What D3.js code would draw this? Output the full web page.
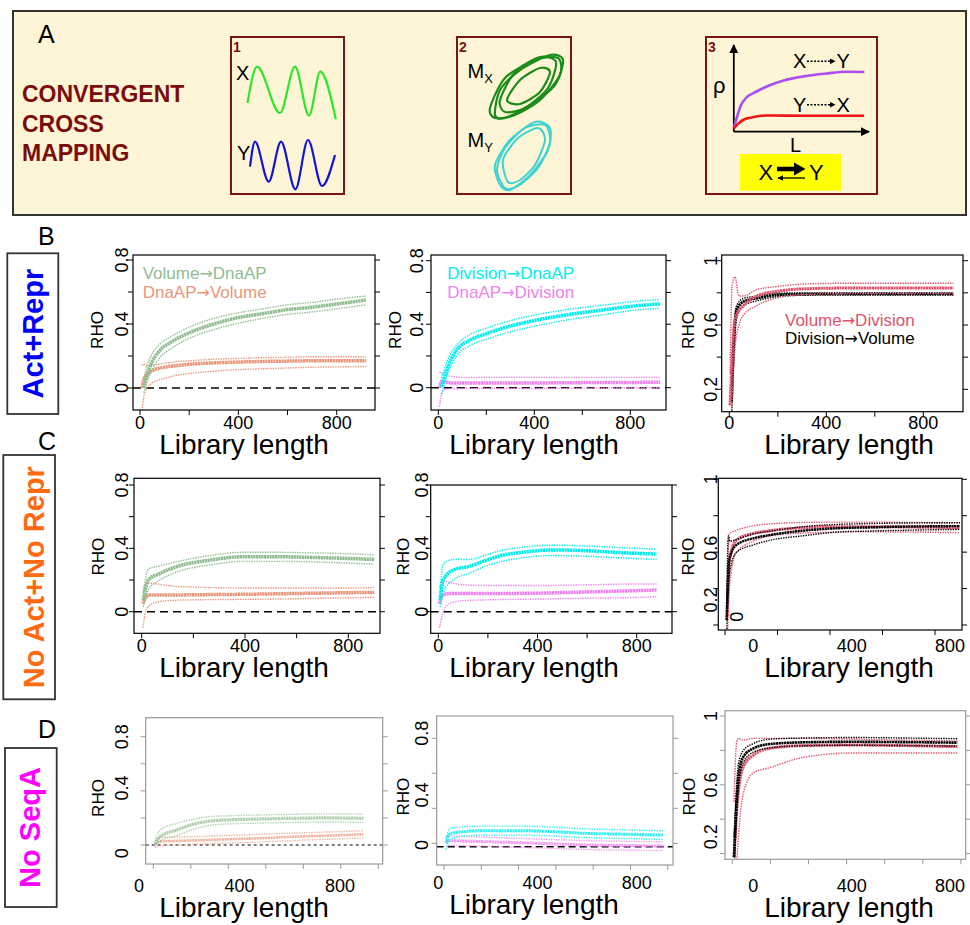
<!DOCTYPE html>
<html><head><meta charset="utf-8">
<script src="https://cdn.jsdelivr.net/npm/d3@7"></script>
<style>body{margin:0;background:#fff}svg{display:block}text{font-family:"Liberation Sans",Arial,Helvetica,sans-serif}</style>
</head><body><svg id="c" width="970" height="925"></svg>
<script>
// ================= DATA =================
const ccmWords = ["CONVERGENT","CROSS","MAPPING"];
const waveX = [[16.5,66],[26,29.7],[49,76],[64,29.7],[78,78.7],[89.3,34.7],[104.8,82.3]];
const waveY = [[19,129.7],[24,104.7],[37.7,144.7],[50,104.7],[64.4,152.3],[77,103],[91,149],[104,118]];
const loopsMX = [
  [[38,78],[43,53],[63,33],[93,18],[106,23],[98,48],[73,68],[48,81]],
  [[33,71],[48,41],[78,23],[101,21],[103,38],[83,63],[58,78],[38,81]],
  [[43,63],[58,35],[83,20],[99,25],[91,51],[68,71],[48,75]],
  [[50,63],[63,43],[83,31],[93,35],[83,55],[63,67]]];
const loopsMY = [
  [[43,148],[38,128],[53,103],[78,85],[93,91],[91,113],[73,138],[53,153]],
  [[48,151],[40,133],[48,111],[68,91],[88,88],[93,105],[81,131],[61,149]],
  [[51,145],[46,123],[61,101],[81,91],[88,103],[78,128],[63,143]]];
const rhoXY = [[27.8,91.3],[31,80],[35,68],[40,61],[49.6,55],[62,49],[77.6,43.5],[100,39],[121,36.5],[140,34.8],[158.4,35]];
const rhoYX = [[27.8,91.3],[33,86],[38,82.5],[46.5,80.3],[60,78.5],[80,78.6],[120,78.8],[158,78.7]];

// Row B (Act+Repr)
const bL_vd = [15,27,45,81,130,200,300,400,500,600,700,800,920];
const b_vd   = [0.0,0.07,0.15,0.235,0.29,0.345,0.40,0.44,0.465,0.49,0.505,0.525,0.55];
const b_vdHi = [0.05,0.13,0.2,0.275,0.325,0.38,0.435,0.47,0.495,0.52,0.535,0.555,0.575];
const b_vdLo = [-0.03,0.03,0.1,0.19,0.25,0.31,0.365,0.405,0.435,0.46,0.475,0.495,0.52];
const bL_dv = [8,15,25,40,60,100,150,200,300,400,500,600,700,800,920];
const b_dv   = [0.0,0.05,0.08,0.10,0.115,0.13,0.14,0.148,0.157,0.162,0.166,0.168,0.17,0.17,0.17];
const b_dvHi = [0.14,0.15,0.14,0.14,0.145,0.155,0.165,0.17,0.18,0.185,0.19,0.192,0.195,0.195,0.195];
const b_dvLo = [-0.14,-0.06,-0.01,0.02,0.04,0.06,0.08,0.09,0.105,0.115,0.12,0.125,0.13,0.132,0.135];
const bL_divd = [14,35,77,132,200,271,410,549,688,826,924];
const b_divd   = [0.006,0.11,0.237,0.30,0.34,0.376,0.426,0.462,0.49,0.516,0.528];
const b_divdHi = [0.06,0.16,0.27,0.335,0.375,0.41,0.46,0.495,0.52,0.545,0.555];
const b_divdLo = [-0.04,0.07,0.2,0.265,0.305,0.34,0.39,0.43,0.46,0.49,0.5];
const bL_ddiv = [5,15,30,60,100,200,400,600,800,924];
const b_ddiv   = [0.0,0.04,0.035,0.03,0.03,0.03,0.03,0.032,0.033,0.035];
const b_ddivHi = [0.1,0.09,0.08,0.07,0.065,0.065,0.065,0.065,0.065,0.065];
const b_ddivLo = [-0.12,-0.03,-0.01,-0.005,-0.005,-0.005,-0.005,-0.003,0,0];
const bL_divv = [10,16,30,58,113,195,300,500,700,924];
const b_divv   = [0.12,0.40,0.69,0.745,0.766,0.787,0.792,0.793,0.793,0.793];
const b_divvHi = [0.2,0.5,0.72,0.765,0.78,0.797,0.8,0.8,0.8,0.8];
const b_divvLo = [0.05,0.3,0.64,0.72,0.75,0.775,0.785,0.787,0.787,0.787];
const bL_vdiv = [3,12,23,40,58,113,200,306,500,700,924];
const b_vdiv   = [0.1,0.4,0.63,0.69,0.72,0.78,0.81,0.825,0.83,0.83,0.83];
const b_vdivHi = [0.3,0.85,0.9,0.78,0.78,0.82,0.84,0.855,0.86,0.86,0.86];
const b_vdivLo = [-0.1,0.15,0.45,0.6,0.66,0.72,0.77,0.79,0.795,0.795,0.795];
// Row C (No Act+No Repr)
const cL_vd = [6,26,71,135,265,394,523,652,781,900];
const c_vd   = [0.074,0.2,0.242,0.284,0.326,0.347,0.347,0.343,0.337,0.33];
const c_vdHi = [0.12,0.27,0.29,0.315,0.355,0.375,0.375,0.372,0.367,0.36];
const c_vdLo = [0.03,0.14,0.2,0.25,0.295,0.318,0.318,0.315,0.308,0.3];
const cL_dv = [5,15,30,60,100,200,400,600,800,900];
const c_dv   = [0.05,0.09,0.105,0.105,0.105,0.107,0.11,0.115,0.12,0.122];
const c_dvHi = [0.12,0.18,0.18,0.175,0.165,0.155,0.15,0.15,0.15,0.152];
const c_dvLo = [-0.1,0.0,0.04,0.06,0.07,0.075,0.078,0.082,0.088,0.09];
const cL_divd = [7,20,60,128,195,262,329,464,598,733,880];
const c_divd   = [0.074,0.2,0.263,0.288,0.326,0.358,0.373,0.39,0.385,0.373,0.364];
const c_divdHi = [0.12,0.3,0.33,0.33,0.36,0.39,0.405,0.42,0.415,0.405,0.395];
const c_divdLo = [0.03,0.12,0.2,0.245,0.29,0.32,0.338,0.355,0.35,0.34,0.33];
const cL_ddiv = [5,15,30,60,100,200,400,600,800,880];
const c_ddiv   = [0.05,0.1,0.112,0.115,0.115,0.115,0.117,0.125,0.133,0.137];
const c_ddivHi = [0.15,0.2,0.19,0.18,0.17,0.165,0.165,0.17,0.175,0.175];
const c_ddivLo = [-0.1,-0.03,0.03,0.06,0.07,0.075,0.08,0.085,0.09,0.095];
const cL_divv = [6,13,19,44,108,171,298,425,552,679,895];
const c_divv   = [0.227,0.50,0.575,0.64,0.676,0.694,0.718,0.731,0.736,0.74,0.743];
const c_divvHi = [0.3,0.69,0.66,0.67,0.7,0.715,0.74,0.752,0.757,0.76,0.762];
const c_divvLo = [0.15,0.4,0.5,0.6,0.64,0.665,0.69,0.71,0.716,0.72,0.725];
const cL_vdiv = [9,16,44,108,171,298,425,552,700,895];
const c_vdiv   = [0.25,0.55,0.667,0.703,0.718,0.734,0.74,0.74,0.738,0.734];
const c_vdivHi = [0.35,0.7,0.72,0.745,0.755,0.763,0.765,0.765,0.763,0.76];
const c_vdivLo = [0.1,0.4,0.6,0.66,0.69,0.705,0.71,0.712,0.71,0.707];
// Row D (No SeqA)
const dL_1 = [9,36,125,213,302,391,569,747,925,1120];
const d_vd   = [0.007,0.061,0.111,0.153,0.177,0.185,0.192,0.197,0.2,0.197];
const d_vdHi = [0.03,0.11,0.16,0.19,0.21,0.215,0.222,0.227,0.23,0.227];
const d_vdLo = [-0.01,0.03,0.07,0.115,0.145,0.155,0.162,0.167,0.17,0.167];
const d_dv   = [0.007,0.025,0.03,0.034,0.038,0.042,0.05,0.061,0.069,0.079];
const d_dvHi = [0.03,0.055,0.06,0.062,0.066,0.07,0.078,0.088,0.096,0.105];
const d_dvLo = [-0.02,-0.005,0.0,0.006,0.01,0.014,0.022,0.033,0.042,0.052];
const dL_2 = [11,32,103,229,408,586,765,944,1176];
const d_divd   = [0.024,0.09,0.106,0.113,0.113,0.106,0.094,0.089,0.082];
const d_divdHi = [0.06,0.13,0.14,0.145,0.145,0.138,0.126,0.12,0.112];
const d_divdLo = [-0.02,0.05,0.075,0.082,0.082,0.076,0.064,0.058,0.052];
const d_ddiv   = [0.035,0.042,0.04,0.035,0.028,0.02,0.012,0.008,0.005];
const d_ddivHi = [0.07,0.075,0.072,0.066,0.058,0.05,0.042,0.038,0.035];
const d_ddivLo = [0.0,0.01,0.008,0.003,-0.005,-0.012,-0.02,-0.024,-0.027];
const dL_3 = [9,23,32,58,111,198,374,637,900,1181];
const d_divv   = [0.18,0.51,0.647,0.763,0.812,0.837,0.847,0.85,0.848,0.845];
const d_divvHi = [0.3,0.6,0.72,0.8,0.84,0.865,0.872,0.875,0.872,0.868];
const d_divvLo = [0.1,0.42,0.58,0.73,0.79,0.815,0.827,0.83,0.828,0.825];
const d_vdiv   = [0.18,0.45,0.56,0.705,0.773,0.812,0.828,0.831,0.828,0.822];
const d_vdivHi = [0.5,0.85,0.87,0.86,0.87,0.87,0.87,0.865,0.86,0.855];
const d_vdivLo = [0.05,0.15,0.3,0.55,0.67,0.70,0.76,0.785,0.785,0.785];

const xTickLabels = [0,400,800];
const legB1 = [["Volume","DnaAP"],["DnaAP","Volume"]];
const legB2 = [["Division","DnaAP"],["DnaAP","Division"]];
const legB3 = [["Volume","Division"],["Division","Volume"]];
const rowLabels = [{l:"B",t:"Act+Repr",c:"#0000ff"},{l:"C",t:"No Act+No Repr",c:"#ff6a10"},{l:"D",t:"No SeqA",c:"#ff00ff"}];

// ================= DRAW =================
const COL = {vd:"#8fbc8f", dv:"#e9967a", divd:"#00eeee", ddiv:"#ee82ee", vdiv:"#df536b", divv:"#000000"};
const svg = d3.select("#c");
const defs = svg.append("defs");
const lin = (v0,p0,v1,p1) => d3.scaleLinear().domain([v0,v1]).range([p0,p1]);

defs.append("marker").attr("id","ah").attr("viewBox","0 0 10 10").attr("refX",9).attr("refY",5)
  .attr("markerWidth",9).attr("markerHeight",9).attr("markerUnits","userSpaceOnUse").attr("orient","auto")
  .append("path").attr("d","M0,0L10,5L0,10z").attr("fill","#000");
defs.append("marker").attr("id","ahs").attr("viewBox","0 0 10 10").attr("refX",9).attr("refY",5)
  .attr("markerWidth",6).attr("markerHeight",6).attr("markerUnits","userSpaceOnUse").attr("orient","auto")
  .append("path").attr("d","M0,0L10,5L0,10z").attr("fill","#000");

// ---- Panel A ----
const A = svg.append("g");
A.append("rect").attr("x",13).attr("y",11).attr("width",953).attr("height",204)
  .attr("fill","#fdf5d5").attr("stroke","#333").attr("stroke-width",2);
A.append("text").attr("x",38).attr("y",43).attr("font-size",25).text("A");
ccmWords.forEach((w,i)=>A.append("text").attr("x",22).attr("y",101.7+i*29.8).attr("font-size",23)
  .attr("font-weight","bold").attr("fill","#7b0c0c").text(w));

const boxes = [{x:231,w:113,n:"1"},{x:457,w:114,n:"2"},{x:706,w:171,n:"3"}];
const bsc = boxes.map(b=>({sx:lin(0,b.x,b.w,b.x+b.w), sy:lin(0,37,157,194)}));
boxes.forEach(b=>{
  A.append("rect").attr("x",b.x).attr("y",37).attr("width",b.w).attr("height",157)
    .attr("fill","none").attr("stroke","#7a1414").attr("stroke-width",2);
  A.append("text").attr("x",b.x+2).attr("y",52).attr("font-size",14).attr("font-weight","bold")
    .attr("fill","#7a1414").text(b.n);
});
{
  const {sx,sy} = bsc[0];
  const ln = d3.line().x(d=>sx(d[0])).y(d=>sy(d[1])).curve(d3.curveMonotoneX);
  A.append("path").attr("d",ln(waveX)).attr("fill","none").attr("stroke","#2ee62e").attr("stroke-width",2.2);
  A.append("path").attr("d",ln(waveY)).attr("fill","none").attr("stroke","#1414d8").attr("stroke-width",2.2);
  A.append("text").attr("x",sx(5)).attr("y",sy(43)).attr("font-size",20).text("X");
  A.append("text").attr("x",sx(6)).attr("y",sy(123)).attr("font-size",20).text("Y");
}
{
  const {sx,sy} = bsc[1];
  const ln = d3.line().x(d=>sx(d[0])).y(d=>sy(d[1])).curve(d3.curveCardinalClosed.tension(0.2));
  loopsMX.forEach(l=>A.append("path").attr("d",ln(l)).attr("fill","none").attr("stroke","#1a8c1a").attr("stroke-width",2.2));
  loopsMY.forEach(l=>A.append("path").attr("d",ln(l)).attr("fill","none").attr("stroke","#3fd2d2").attr("stroke-width",2));
  const mx = A.append("text").attr("x",sx(10.5)).attr("y",sy(41.3)).attr("font-size",20);
  mx.append("tspan").text("M"); mx.append("tspan").attr("dy",5).attr("font-size",13).text("X");
  const my = A.append("text").attr("x",sx(10.5)).attr("y",sy(109.7)).attr("font-size",20);
  my.append("tspan").text("M"); my.append("tspan").attr("dy",5).attr("font-size",13).text("Y");
}
{
  const {sx,sy} = bsc[2];
  A.append("line").attr("x1",sx(27.8)).attr("y1",sy(94.7)).attr("x2",sx(27.8)).attr("y2",sy(8))
    .attr("stroke","#000").attr("stroke-width",1.8).attr("marker-end","url(#ah)");
  A.append("line").attr("x1",sx(27.8)).attr("y1",sy(94.7)).attr("x2",sx(163)).attr("y2",sy(94.7))
    .attr("stroke","#000").attr("stroke-width",1.8).attr("marker-end","url(#ah)");
  const ln = d3.line().x(d=>sx(d[0])).y(d=>sy(d[1])).curve(d3.curveMonotoneX);
  A.append("path").attr("d",ln(rhoXY)).attr("fill","none").attr("stroke","#a94ff2").attr("stroke-width",2.6);
  A.append("path").attr("d",ln(rhoYX)).attr("fill","none").attr("stroke","#ee1515").attr("stroke-width",2.6);
  A.append("text").attr("x",sx(7)).attr("y",sy(56)).attr("font-size",22).text("\u03C1");
  A.append("text").attr("x",sx(84)).attr("y",sy(114.7)).attr("font-size",20).text("L");
  [[31.3,"X","Y"],[74.7,"Y","X"]].forEach(([v,a,b])=>{
    A.append("text").attr("x",sx(87)).attr("y",sy(v)).attr("font-size",20).text(a);
    A.append("line").attr("x1",sx(101)).attr("x2",sx(129)).attr("y1",sy(v-7)).attr("y2",sy(v-7))
      .attr("stroke","#000").attr("stroke-width",1.4).attr("stroke-dasharray","2 1.5").attr("marker-end","url(#ahs)");
    A.append("text").attr("x",sx(130.5)).attr("y",sy(v)).attr("font-size",20).text(b);
  });
  A.append("rect").attr("x",sx(34)).attr("y",sy(117)).attr("width",sx(135)-sx(34)).attr("height",sy(153.7)-sy(117)).attr("fill","#ffff00");
  A.append("text").attr("x",sx(52.5)).attr("y",sy(143)).attr("font-size",22).text("X");
  A.append("text").attr("x",sx(103)).attr("y",sy(143)).attr("font-size",22).text("Y");
  A.append("line").attr("x1",sx(71)).attr("x2",sx(92)).attr("y1",sy(132)).attr("y2",sy(132))
    .attr("stroke","#000").attr("stroke-width",4.5);
  A.append("path").attr("d",`M${sx(88)},${sy(125.5)}L${sx(99.5)},${sy(132)}L${sx(88)},${sy(138.5)}Z`).attr("fill","#000");
  A.append("line").attr("x1",sx(99)).attr("x2",sx(72)).attr("y1",sy(141)).attr("y2",sy(141))
    .attr("stroke","#000").attr("stroke-width",1.3).attr("marker-end","url(#ahs)");
}

// ---- Row labels ----
const rowBoxes = [{ly:245,box:[7.3,253.3,51,160.7],cx:33.3},{ly:450,box:[3.3,455,51.7,244.3],cx:34},{ly:738,box:[5,748,51.7,159],cx:30}];
rowLabels.forEach((r,i)=>{
  const rb = rowBoxes[i];
  svg.append("text").attr("x",38).attr("y",rb.ly).attr("font-size",25).text(r.l);
  svg.append("rect").attr("x",rb.box[0]).attr("y",rb.box[1]).attr("width",rb.box[2]).attr("height",rb.box[3])
    .attr("fill","#fff").attr("stroke","#333").attr("stroke-width",1.8);
  svg.append("text").attr("transform",`translate(${rb.cx+10},${rb.box[1]+rb.box[3]/2}) rotate(-90)`)
    .attr("text-anchor","middle").attr("font-size",29).attr("font-weight","bold").attr("fill",r.c).text(r.t);
});

// ---- Chart panels ----
function S(L,m,lo,hi,color,w,op){return {L,m,lo,hi,color,w:w||3.5,op:op||1};}
const pw = d3.range(0,1201,200);
const panels = [
 {id:"B1",box:[133,255,375,410],x:lin(0,140,800,336.7),y:lin(0,388,0.8,260),xticks:[0,200,400,600,800],yticks:[0,.2,.4,.6,.8],ylabs:[0,.4,.8],
  ylabX:128.3,xlabY:429,titleX:244,titleY:454,rhoX:102.7,rhoY:330,zero:"8 5",frame:"#000",
  series:[S(bL_dv,b_dv,b_dvLo,b_dvHi,COL.dv),S(bL_vd,b_vd,b_vdLo,b_vdHi,COL.vd)],
  legend:{x:142.7,y:279.3,items:[[legB1[0],COL.vd],[legB1[1],COL.dv]]}},
 {id:"B2",box:[431,255,666,410],x:lin(0,438.3,800,630.3),y:lin(0,387.7,0.8,260.7),xticks:[0,200,400,600,800],yticks:[0,.2,.4,.6,.8],ylabs:[0,.4,.8],
  ylabX:423.3,xlabY:429,titleX:534,titleY:454,rhoX:400.7,rhoY:330,zero:"8 5",frame:"#000",
  series:[S(bL_ddiv,b_ddiv,b_ddivLo,b_ddivHi,COL.ddiv),S(bL_divd,b_divd,b_divdLo,b_divdHi,COL.divd)],
  legend:{x:447.3,y:279.3,items:[[legB2[0],COL.divd],[legB2[1],COL.ddiv]]}},
 {id:"B3",box:[721.7,255,963,411.7],x:lin(0,729.3,800,923.3),y:lin(0.2,389.3,1,260.7),xticks:[0,200,400,600,800],yticks:[.2,.4,.6,.8,1],ylabs:[.2,.6,1],
  ylabX:716.7,xlabY:429,titleX:849,titleY:454,rhoX:694,rhoY:330,frame:"#000",
  series:[S(bL_divv,b_divv,b_divvLo,b_divvHi,COL.divv,2.6),S(bL_vdiv,b_vdiv,b_vdivLo,b_vdivHi,COL.vdiv,3)],
  legend:{x:785,y:325.7,items:[[legB3[0],COL.vdiv],[legB3[1],COL.divv]]}},
 {id:"C1",box:[134,478.3,380,633.3],x:lin(0,141.7,800,348.3),y:lin(0,611.7,0.8,485),xticks:[0,200,400,600,800],yticks:[0,.2,.4,.6,.8],ylabs:[0,.4,.8],
  ylabX:128.3,xlabY:651.5,titleX:244,titleY:677,rhoX:104.3,rhoY:556.7,zero:"8 5",frame:"#000",
  series:[S(cL_dv,c_dv,c_dvLo,c_dvHi,COL.dv),S(cL_vd,c_vd,c_vdLo,c_vdHi,COL.vd)]},
 {id:"C2",box:[430.7,485,672,633.3],x:lin(0,438.3,800,636.7),y:lin(0,611.7,0.8,485),xticks:[0,200,400,600,800],yticks:[0,.2,.4,.6,.8],ylabs:[0,.4,.8],
  ylabX:428.3,xlabY:651.5,titleX:534,titleY:677,rhoX:409.3,rhoY:556.7,zero:"8 5",frame:"#000",
  series:[S(cL_ddiv,c_ddiv,c_ddivLo,c_ddivHi,COL.ddiv),S(cL_divd,c_divd,c_divdLo,c_divdHi,COL.divd)]},
 {id:"C3",box:[718.3,478.3,962,630],x:lin(0,725,800,935),xl:lin(0,753.3,800,950),y:lin(0.2,625,1,479.3),
  yl:d3.scaleLinear().domain([0,0.2,0.6,1]).range([616.7,600,548.3,479.3]),xticks:[0,200,400,600,800],yticks:[.2,.4,.6,.8,1],ylabs:[.2,.6,1],
  extraY:{v:0,x:743.3},
  ylabX:716.7,xlabY:651.5,titleX:849,titleY:677,rhoX:694,rhoY:556.7,frame:"#000",
  series:[S(cL_vdiv,c_vdiv,c_vdivLo,c_vdivHi,COL.vdiv,3),S(cL_divv,c_divv,c_divvLo,c_divvHi,COL.divv,2.4)]},
 {id:"D1",box:[145.7,717.7,382.7,864],x:lin(0,153.3,200,190.8),xl:lin(0,139,800,340),y:lin(0,845,0.8,736.7),
  yl:d3.scaleLinear().domain([0,0.4,0.8]).range([853.3,788,736.7]),xticks:pw,yticks:[0,.2,.4,.6,.8],ylabs:[0,.4,.8],
  ylabX:128.3,xlabY:892,titleX:244,titleY:917,rhoX:104.3,rhoY:798,zero:"3 3",zeroW:1,frame:"#9a9a9a",
  series:[S(dL_1,d_dv,d_dvLo,d_dvHi,COL.dv,2.6,0.7),S(dL_1,d_vd,d_vdLo,d_vdHi,COL.vd,3.2,0.7)]},
 {id:"D2",box:[436.7,716,673,865],x:lin(0,444,200,481.3),xl:lin(0,438.3,800,636.7),y:lin(0,846.7,0.8,733.3),
  yt:lin(0.8,738.3,0.6,773.3),yl:d3.scaleLinear().domain([0,0.4,0.8]).range([845,795,733.3]),xticks:pw,yticks:[.2,.4,.6,.8],ylabs:[0,.4,.8],
  ylabX:428.3,xlabY:889,titleX:534,titleY:914,rhoX:409.3,rhoY:796.7,zero:"7 4",frame:"#9a9a9a",
  series:[S(dL_2,d_ddiv,d_ddivLo,d_ddivHi,COL.ddiv,3,0.8),S(dL_2,d_divd,d_divdLo,d_divdHi,COL.divd,3,0.8)]},
 {id:"D3",box:[725,710.7,965.7,859.3],x:lin(0,732.3,200,770.4),xl:lin(0,753.3,800,950),y:lin(0.2,853.6,1,716),
  yl:d3.scaleLinear().domain([0.2,0.6,1]).range([836.7,785,716]),xticks:pw,yticks:[.2,.4,.6,.8,1],ylabs:[.2,.6,1],
  ylabX:716.7,xlabY:892,titleX:849,titleY:917,rhoX:695,rhoY:796.7,frame:"#9a9a9a",
  series:[S(dL_3,d_vdiv,d_vdivLo,d_vdivHi,COL.vdiv,3),S(dL_3,d_divv,d_divvLo,d_divvHi,COL.divv,2.6)]}
];

function drawPanel(p){
  const [l,t,r,b] = p.box;
  const xl = p.xl||p.x, yt = p.yt||p.y, yl = p.yl||p.y;
  defs.append("clipPath").attr("id","clip"+p.id).append("rect").attr("x",l).attr("y",t).attr("width",r-l).attr("height",b-t);
  const g = svg.append("g");
  const cg = g.append("g").attr("clip-path",`url(#clip${p.id})`);
  if(p.zero) cg.append("line").attr("x1",l).attr("x2",r).attr("y1",p.y(0)).attr("y2",p.y(0))
    .attr("stroke","#000").attr("stroke-width",p.zeroW||1.5).attr("stroke-dasharray",p.zero);
  p.series.forEach(s=>{
    const ln = d3.line().x((d,i)=>p.x(s.L[i])).y(d=>p.y(d)).curve(d3.curveMonotoneX);
    [s.lo,s.hi].forEach(arr=>{
      cg.append("path").attr("d",ln(arr)).attr("fill","none").attr("stroke",s.color).attr("stroke-width",1.4)
        .attr("stroke-dasharray","1.4 1.1").attr("opacity",s.op);
    });
    cg.append("path").attr("d",ln(s.m)).attr("fill","none").attr("stroke",s.color).attr("stroke-width",s.w)
      .attr("stroke-dasharray","2.2 0.5").attr("opacity",s.op);
  });
  g.append("rect").attr("x",l).attr("y",t).attr("width",r-l).attr("height",b-t).attr("fill","none")
    .attr("stroke",p.frame).attr("stroke-width",1.2);
  p.xticks.filter(v=>p.x(v)>=l-0.5&&p.x(v)<=r+0.5).forEach(v=>g.append("line").attr("x1",p.x(v)).attr("x2",p.x(v))
    .attr("y1",b).attr("y2",b+5).attr("stroke",p.frame).attr("stroke-width",1));
  xTickLabels.forEach(v=>g.append("text").attr("x",xl(v)).attr("y",p.xlabY).attr("text-anchor","middle")
    .attr("font-size",18).text(String(v)));
  p.yticks.forEach(v=>{
    g.append("line").attr("x1",l-5).attr("x2",l).attr("y1",yt(v)).attr("y2",yt(v)).attr("stroke",p.frame).attr("stroke-width",1);
    g.append("line").attr("x1",r).attr("x2",r+5).attr("y1",yt(v)).attr("y2",yt(v)).attr("stroke",p.frame).attr("stroke-width",1);
  });
  p.ylabs.forEach(v=>g.append("text").attr("transform",`translate(${p.ylabX},${yl(v)}) rotate(-90)`)
    .attr("text-anchor","middle").attr("font-size",18).text(String(v)));
  if(p.extraY) g.append("text").attr("transform",`translate(${p.extraY.x},${yl(p.extraY.v)}) rotate(-90)`)
    .attr("text-anchor","middle").attr("font-size",18).text(String(p.extraY.v));
  g.append("text").attr("transform",`translate(${p.rhoX},${p.rhoY}) rotate(-90)`).attr("text-anchor","middle")
    .attr("font-size",17).text("RHO");
  g.append("text").attr("x",p.titleX).attr("y",p.titleY).attr("text-anchor","middle").attr("font-size",28).text("Library length");
  if(p.legend) p.legend.items.forEach(([pair,c],i)=>{
    const tx = g.append("text").attr("x",p.legend.x).attr("y",p.legend.y+i*18.5).attr("font-size",17).attr("fill",c);
    tx.append("tspan").text(pair[0]);
    tx.append("tspan").attr("font-family","DejaVu Sans").attr("font-size",16).text("\u2192");
    tx.append("tspan").text(pair[1]);
  });
}
panels.forEach(drawPanel);
</script></body></html>
